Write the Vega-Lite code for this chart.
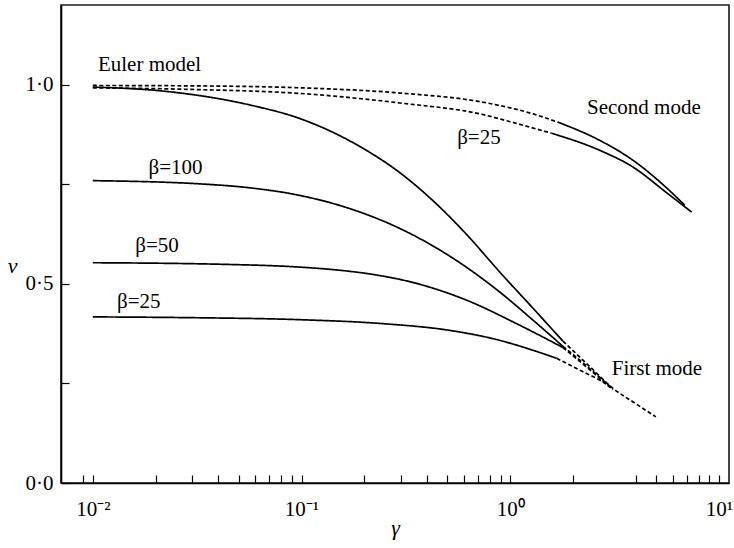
{
  "$schema": "https://vega.github.io/schema/vega-lite/v6.json",
  "width": 668,
  "height": 478,
  "autosize": "none",
  "padding": {"left": 61, "top": 5, "right": 5, "bottom": 65},
  "background": "white",
  "config": {"view": {"stroke": "#1a1a1a", "strokeWidth": 1.6}, "font": "Liberation Serif"},
  "datasets": {
    "curves": [
      {"series": "E1", "style": "solid", "g": 0.01, "v": 0.994},
      {"series": "E1", "style": "solid", "g": 0.0226, "v": 0.983},
      {"series": "E1", "style": "solid", "g": 0.0566, "v": 0.949},
      {"series": "E1", "style": "solid", "g": 0.0981, "v": 0.915},
      {"series": "E1", "style": "solid", "g": 0.19, "v": 0.845},
      {"series": "E1", "style": "solid", "g": 0.296, "v": 0.779},
      {"series": "E1", "style": "solid", "g": 0.426, "v": 0.709},
      {"series": "E1", "style": "solid", "g": 0.618, "v": 0.624},
      {"series": "E1", "style": "solid", "g": 0.893, "v": 0.529},
      {"series": "E1", "style": "solid", "g": 1.285, "v": 0.439},
      {"series": "E1", "style": "solid", "g": 1.79, "v": 0.356},
      {"series": "E1", "style": "dashed", "g": 1.79, "v": 0.356},
      {"series": "E1", "style": "dashed", "g": 2.41, "v": 0.292},
      {"series": "E1", "style": "dashed", "g": 3.1, "v": 0.238},
      {"series": "E1", "style": "dashed", "g": 4.0, "v": 0.199},
      {"series": "E1", "style": "dashed", "g": 4.99, "v": 0.166},
      {"series": "B100", "style": "solid", "g": 0.01, "v": 0.759},
      {"series": "B100", "style": "solid", "g": 0.0325, "v": 0.751},
      {"series": "B100", "style": "solid", "g": 0.0566, "v": 0.741},
      {"series": "B100", "style": "solid", "g": 0.098, "v": 0.722},
      {"series": "B100", "style": "solid", "g": 0.17, "v": 0.689},
      {"series": "B100", "style": "solid", "g": 0.296, "v": 0.639},
      {"series": "B100", "style": "solid", "g": 0.515, "v": 0.569},
      {"series": "B100", "style": "solid", "g": 0.893, "v": 0.479},
      {"series": "B100", "style": "solid", "g": 1.285, "v": 0.409},
      {"series": "B100", "style": "solid", "g": 1.79, "v": 0.343},
      {"series": "B100", "style": "dashed", "g": 1.79, "v": 0.343},
      {"series": "B100", "style": "dashed", "g": 2.41, "v": 0.287},
      {"series": "B100", "style": "dashed", "g": 3.1, "v": 0.236},
      {"series": "B50", "style": "solid", "g": 0.01, "v": 0.553},
      {"series": "B50", "style": "solid", "g": 0.042, "v": 0.549},
      {"series": "B50", "style": "solid", "g": 0.098, "v": 0.542},
      {"series": "B50", "style": "solid", "g": 0.153, "v": 0.534},
      {"series": "B50", "style": "solid", "g": 0.205, "v": 0.526},
      {"series": "B50", "style": "solid", "g": 0.356, "v": 0.501},
      {"series": "B50", "style": "solid", "g": 0.618, "v": 0.459},
      {"series": "B50", "style": "solid", "g": 1.073, "v": 0.4},
      {"series": "B50", "style": "solid", "g": 1.79, "v": 0.34},
      {"series": "B50", "style": "dashed", "g": 1.79, "v": 0.34},
      {"series": "B50", "style": "dashed", "g": 2.41, "v": 0.284},
      {"series": "B50", "style": "dashed", "g": 3.1, "v": 0.234},
      {"series": "B25", "style": "solid", "g": 0.01, "v": 0.417},
      {"series": "B25", "style": "solid", "g": 0.03, "v": 0.415},
      {"series": "B25", "style": "solid", "g": 0.098, "v": 0.41},
      {"series": "B25", "style": "solid", "g": 0.246, "v": 0.4},
      {"series": "B25", "style": "solid", "g": 0.515, "v": 0.383},
      {"series": "B25", "style": "solid", "g": 0.893, "v": 0.358},
      {"series": "B25", "style": "solid", "g": 1.289, "v": 0.333},
      {"series": "B25", "style": "solid", "g": 1.67, "v": 0.313},
      {"series": "B25", "style": "dashed", "g": 1.67, "v": 0.313},
      {"series": "B25", "style": "dashed", "g": 2.2, "v": 0.281},
      {"series": "B25", "style": "dashed", "g": 2.69, "v": 0.258},
      {"series": "B25", "style": "dashed", "g": 3.1, "v": 0.238},
      {"series": "E2", "style": "dashed", "g": 0.01, "v": 0.998},
      {"series": "E2", "style": "dashed", "g": 0.03, "v": 0.997},
      {"series": "E2", "style": "dashed", "g": 0.1, "v": 0.992},
      {"series": "E2", "style": "dashed", "g": 0.296, "v": 0.979},
      {"series": "E2", "style": "dashed", "g": 0.74, "v": 0.956},
      {"series": "E2", "style": "dashed", "g": 1.3, "v": 0.926},
      {"series": "E2", "style": "dashed", "g": 1.73, "v": 0.904},
      {"series": "E2", "style": "solid", "g": 1.73, "v": 0.904},
      {"series": "E2", "style": "solid", "g": 2.69, "v": 0.86},
      {"series": "E2", "style": "solid", "g": 3.88, "v": 0.81},
      {"series": "E2", "style": "solid", "g": 5.64, "v": 0.74},
      {"series": "E2", "style": "solid", "g": 6.87, "v": 0.697},
      {"series": "B25b", "style": "dashed", "g": 0.01, "v": 0.992},
      {"series": "B25b", "style": "dashed", "g": 0.03, "v": 0.988},
      {"series": "B25b", "style": "dashed", "g": 0.098, "v": 0.978},
      {"series": "B25b", "style": "dashed", "g": 0.296, "v": 0.954},
      {"series": "B25b", "style": "dashed", "g": 0.74, "v": 0.925},
      {"series": "B25b", "style": "dashed", "g": 1.0, "v": 0.907},
      {"series": "B25b", "style": "dashed", "g": 1.58, "v": 0.878},
      {"series": "B25b", "style": "solid", "g": 1.58, "v": 0.878},
      {"series": "B25b", "style": "solid", "g": 2.69, "v": 0.835},
      {"series": "B25b", "style": "solid", "g": 3.88, "v": 0.793},
      {"series": "B25b", "style": "solid", "g": 5.64, "v": 0.728},
      {"series": "B25b", "style": "solid", "g": 7.41, "v": 0.68}
    ],
    "labels": [
      {"text": "Euler model", "g": 0.0187, "v": 1.035},
      {"text": "β=100", "g": 0.0249, "v": 0.776},
      {"text": "β=50", "g": 0.0203, "v": 0.58},
      {"text": "β=25", "g": 0.0166, "v": 0.4386},
      {"text": "β=25", "g": 0.708, "v": 0.852},
      {"text": "Second mode", "g": 4.37, "v": 0.927},
      {"text": "First mode", "g": 5.05, "v": 0.271}
    ]
  },
  "layer": [
    {
      "data": {"name": "curves"},
      "mark": {"type": "line", "color": "black", "strokeWidth": 1.7, "interpolate": "monotone"},
      "encoding": {
        "x": {
          "field": "g",
          "type": "quantitative",
          "scale": {"type": "log", "domain": [0.00704, 11.18], "nice": false},
          "axis": {
            "title": "γ",
            "titleFont": "Liberation Serif",
            "titleFontStyle": "italic",
            "titleFontWeight": "normal",
            "titleFontSize": 22,
            "titleColor": "black",
            "titleY": 51,
            "titleBaseline": "alphabetic",
            "values": [0.009, 0.01, 0.02, 0.03, 0.04, 0.05, 0.06, 0.07, 0.08, 0.09, 0.1, 0.2, 0.3, 0.4, 0.5, 0.6, 0.7, 0.8, 0.9, 1, 2, 4, 5, 6, 7, 8, 9, 10],
            "labelExpr": "datum.value === 0.01 ? '10⁻²' : datum.value === 0.1 ? '10⁻¹' : datum.value === 1 ? '10⁰' : datum.value === 10 ? '10¹' : ''",
            "labelFont": "Liberation Serif",
            "labelFontSize": 21,
            "labelColor": "black",
            "labelPadding": 23,
            "labelDx": 5,
            "labelOverlap": false,
            "labelFlush": false,
            "tickSize": -8,
            "tickColor": "black",
            "tickWidth": 1.2,
            "domainColor": "black",
            "domainWidth": 1.6,
            "grid": false
          }
        },
        "y": {
          "field": "v",
          "type": "quantitative",
          "scale": {"domain": [0, 1.2], "nice": false},
          "axis": {
            "title": "ν",
            "titleFont": "Liberation Serif",
            "titleFontStyle": "italic",
            "titleFontWeight": "normal",
            "titleFontSize": 22,
            "titleColor": "black",
            "titleAngle": 0,
            "titleX": -49,
            "titleY": 260,
            "titleAlign": "center",
            "titleBaseline": "middle",
            "values": [0, 0.25, 0.5, 0.75, 1.0],
            "labelExpr": "datum.value === 0 ? '0·0' : datum.value === 0.5 ? '0·5' : datum.value === 1 ? '1·0' : ''",
            "labelFont": "Liberation Serif",
            "labelFontSize": 21,
            "labelColor": "black",
            "labelPadding": 16,
            "labelOverlap": false,
            "labelFlush": false,
            "tickSize": -8,
            "tickColor": "black",
            "tickWidth": 1.2,
            "domainColor": "black",
            "domainWidth": 1.6,
            "grid": false
          }
        },
        "detail": {"field": "series"},
        "strokeDash": {
          "field": "style",
          "type": "nominal",
          "scale": {"domain": ["solid", "dashed"], "range": [[1, 0], [4, 2.5]]},
          "legend": null
        }
      }
    },
    {
      "data": {"name": "labels"},
      "mark": {"type": "text", "font": "Liberation Serif", "fontSize": 21, "align": "center", "baseline": "alphabetic", "color": "black"},
      "encoding": {
        "x": {"field": "g", "type": "quantitative"},
        "y": {"field": "v", "type": "quantitative"},
        "text": {"field": "text"}
      }
    }
  ]
}
